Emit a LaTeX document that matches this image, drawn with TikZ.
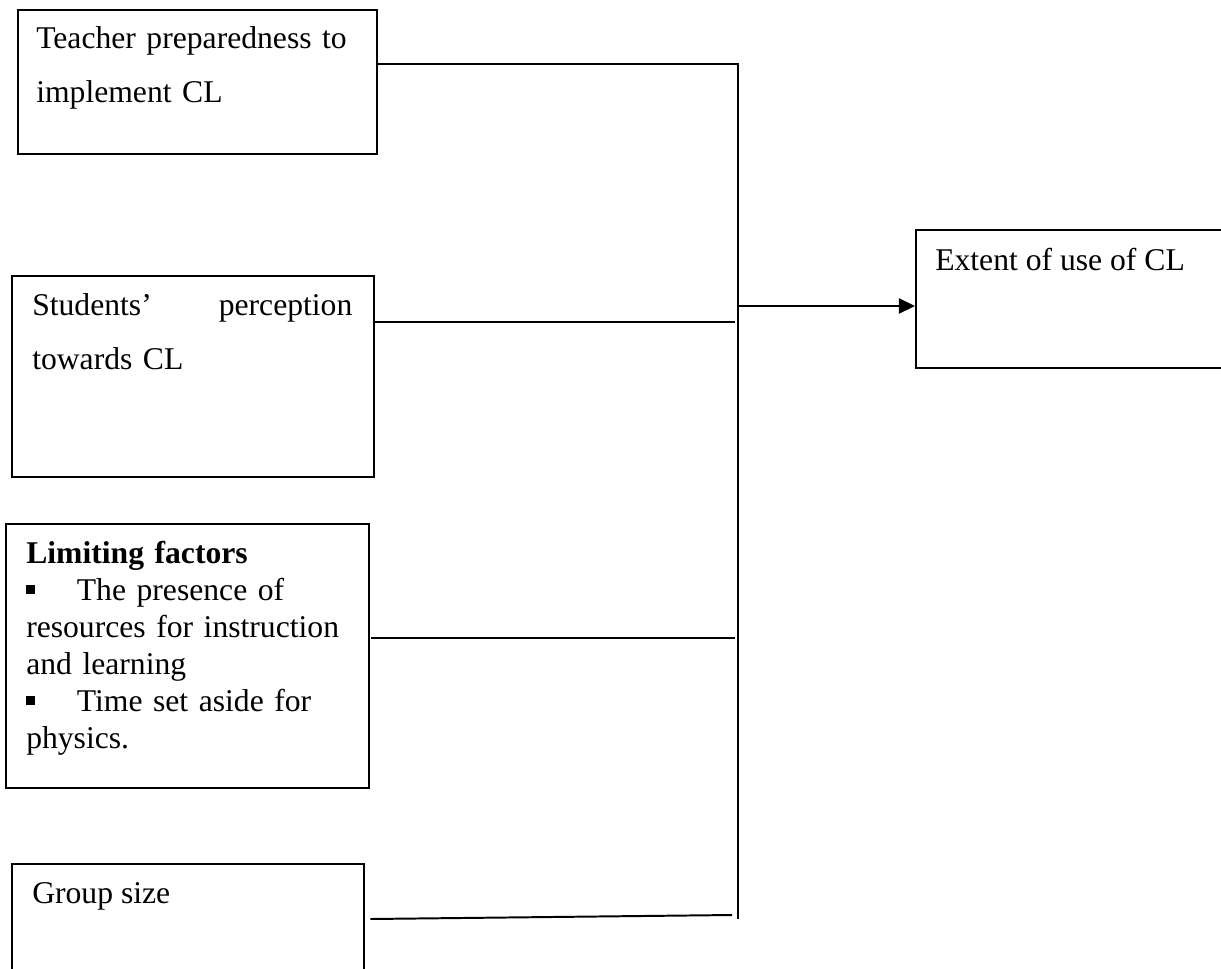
\documentclass[tikz,border=0pt]{standalone}
\usepackage{fontspec}
\setmainfont{Liberation Serif}
\usetikzlibrary{arrows.meta}

\newcommand{\sqbullet}{\makebox[36pt][l]{\rule[4.5pt]{6.2pt}{6.2pt}}}

\begin{document}
\begin{tikzpicture}
  [
    x=0.025cm, y=-0.025cm,
    box/.style =
      {draw, rectangle, line width=1.1pt, anchor=north west, inner sep=0pt},
    txt/.style =
      {anchor=base west, inner sep=0pt, align=left,
       font=\fontsize{22.5}{38.4}\selectfont},
    tight/.style =
      {font=\fontsize{22.5}{26.4}\selectfont},
    link/.style =
      {line width=1.4pt}
  ]
  \useasboundingbox (0,0) rectangle (1221,968);
  \clip (0,0) rectangle (1221,968);

  % boxes
  \node [box, minimum width=8.975cm, minimum height=3.6cm]   at ( 17,  9) (t) {};
  \node [box, minimum width=9.05cm,  minimum height=5.025cm] at ( 11,275) (s) {};
  \node [box, minimum width=9.075cm, minimum height=6.6cm]   at (  5,523) (l) {};
  \node [box, minimum width=8.8cm,   minimum height=3.75cm]  at ( 11,863) (g) {};
  \node [box, minimum width=8.75cm,  minimum height=3.45cm]  at (915,229) (e) {};

  % texts
  \node [txt, text width=8.2cm] at ( 36, 48) (t-txt)
    {Teacher preparedness to\\implement CL};
  \node [txt, text width=8cm]   at ( 32,315) (s-txt)
    {Students'\hfill perception\\towards CL};
  \node [txt, tight, text width=8.2cm] at ( 26,563) (l-txt)
    {\textbf{Limiting factors}\\
     \sqbullet The presence of\\
     resources for instruction\\
     and learning\\
     \sqbullet Time set aside for\\
     physics.};
  \node [txt] at ( 32,903) (g-txt) {Group size};
  \node [txt] at (935,270) (e-txt) {Extent of use of CL};

  % joints on the spine
  \coordinate (top) at (738, 64);
  \coordinate (bot) at (738,919);
  \coordinate (j2)  at (735,322);
  \coordinate (j3)  at (735,638);
  \coordinate (j4)  at (732,915);
  \coordinate (ja)  at (738,306);

  \draw[link] (t.east |- top) -- (top) -- (bot);
  \draw[link] (s.east |- j2)  -- (j2);
  \draw[link] ([xshift=1]l.east |- j3) -- (j3);
  \draw[link] ([xshift=4]g.east |- bot) -- (j4);
  \draw[link, -{Triangle[length=11.4pt, width=10.7pt]}] (ja) -- (ja -| e.west);
\end{tikzpicture}
\end{document}
